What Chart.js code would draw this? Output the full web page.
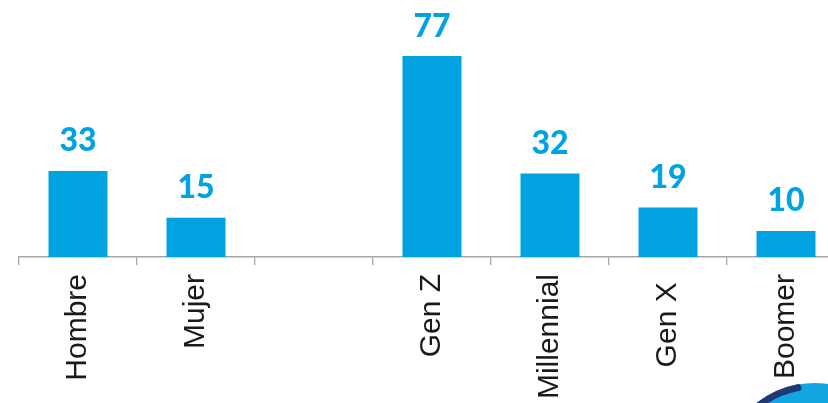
<!DOCTYPE html>
<html>
<head>
<meta charset="utf-8">
<script src="https://cdn.jsdelivr.net/npm/chart.js@4/dist/chart.umd.min.js"></script>
<style>
  html, body { margin: 0; padding: 0; background: #fff; overflow: hidden; width: 828px; height: 403px; }
  #wrap { position: absolute; left: 0; top: 0; width: 850px; height: 403px; }
</style>
</head>
<body>
<div id="wrap"><canvas id="c"></canvas></div>
<script>
const categories = ['Hombre', 'Mujer', '', 'Gen Z', 'Millennial', 'Gen X ', 'Boomer'];
const values = [33, 15, null, 77, 32, 19, 10];

const BLUE = '#00a3e0';

const valueLabels = {
  id: 'valueLabels',
  afterDatasetsDraw(chart) {
    const ctx = chart.ctx;
    const meta = chart.getDatasetMeta(0);
    ctx.save();
    ctx.font = '900 32px Lato';
    ctx.fillStyle = BLUE;
    ctx.textAlign = 'center';
    ctx.textBaseline = 'alphabetic';
    meta.data.forEach((bar, i) => {
      const v = values[i];
      if (v === null || v === undefined) return;
      ctx.fillText(String(v), bar.x, bar.y - 19.5);
    });
    ctx.restore();
  }
};

const decoration = {
  id: 'decoration',
  afterDraw(chart) {
    const ctx = chart.ctx;
    ctx.save();
    const cx = 815, cy = 477, r = 94;
    ctx.beginPath();
    ctx.arc(cx, cy, r, 0, Math.PI * 2);
    ctx.fillStyle = '#11a6e2';
    ctx.fill();
    ctx.beginPath();
    ctx.arc(cx, cy, r - 3, Math.PI * 1.12, Math.PI * 1.44);
    ctx.lineWidth = 7;
    ctx.lineCap = 'round';
    ctx.strokeStyle = '#1f3a70';
    ctx.stroke();
    ctx.beginPath();
    ctx.arc(cx, cy, r - 1, Math.PI * 1.08, Math.PI * 1.18);
    ctx.lineWidth = 3;
    ctx.strokeStyle = '#6a2c9e';
    ctx.stroke();
    ctx.restore();
  }
};

new Chart(document.getElementById('c'), {
  type: 'bar',
  data: {
    labels: categories,
    datasets: [{
      data: values,
      backgroundColor: BLUE,
      borderWidth: 0,
      barPercentage: 0.5,
      categoryPercentage: 1.0
    }]
  },
  options: {
    responsive: true,
    maintainAspectRatio: false,
    animation: false,
    devicePixelRatio: 1,
    layout: { padding: { left: 19, right: 5, top: 0, bottom: 0 } },
    plugins: { legend: { display: false }, tooltip: { enabled: false } },
    scales: {
      x: {
        offset: true,
        grid: {
          offset: true,
          drawOnChartArea: false,
          drawTicks: true,
          tickLength: 8,
          color: '#a6a6a6',
          lineWidth: 1.3
        },
        border: { display: true, color: '#a6a6a6', width: 1.5 },
        ticks: {
          autoSkip: false,
          minRotation: 90,
          maxRotation: 90,
          padding: 9,
          color: '#1a1a1a',
          font: { family: 'Liberation Sans', size: 30 }
        },
        afterFit(scale) { scale.height = 403 - 257; }
      },
      y: {
        display: false,
        min: 0,
        max: 98.5
      }
    }
  },
  plugins: [valueLabels, decoration]
});
</script>
</body>
</html>
